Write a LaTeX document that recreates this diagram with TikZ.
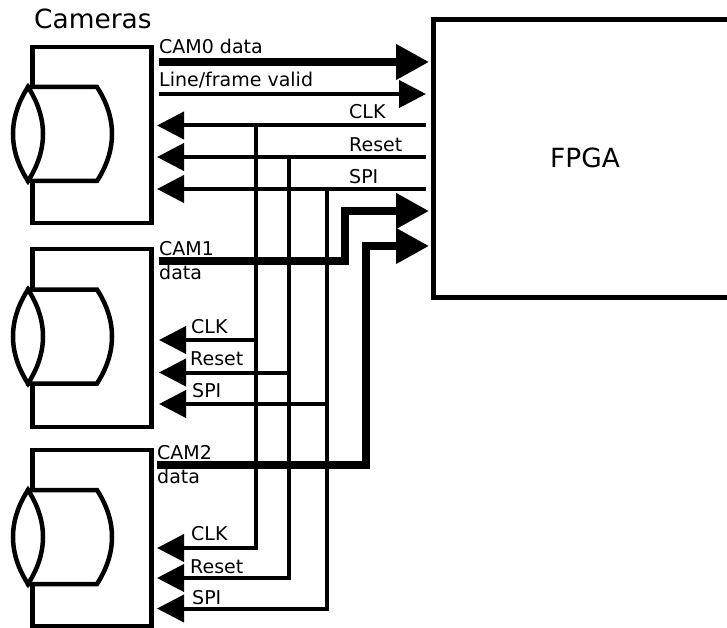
\documentclass[tikz,border=0pt]{standalone}
\usepackage{fontspec}
\setmainfont{DejaVu Sans}
\usetikzlibrary{arrows.meta}

\begin{document}
\begin{tikzpicture}[x=1pt,y=-1pt]
 \tikzstyle{cambox}=[rectangle,draw=black,line width=4.5pt,inner sep=0pt,
   minimum width=119pt]
 \tikzstyle{fpgabox}=[rectangle,draw=black,line width=5pt,inner sep=0pt,
   minimum width=300pt,minimum height=277pt]
 \tikzstyle{lensline}=[draw=black,fill=white,line width=4.5pt,line join=miter]
 \tikzstyle{siglabel}=[anchor=base west,inner sep=0pt,
   font=\fontsize{19}{23}\selectfont]
 \tikzstyle{biglabel}=[anchor=base west,inner sep=0pt,
   font=\fontsize{26.4}{30}\selectfont]
 \tikzstyle{datawire}=[line width=7.5pt,
   -{Triangle[length=33pt,width=34pt]}]
 \tikzstyle{ctrlwire}=[line width=4pt,
   -{Triangle[length=27pt,width=27pt]}]
 \tikzstyle{plainwire}=[line width=4pt]
 \useasboundingbox (0,0) rectangle (727,628);
 \clip (0,0) rectangle (727,628);

 % boxes
 \node (fpga) [fpgabox] at (583,158.5) {};
 \node (cam0) [cambox,minimum height=176pt] at (92,135) {};
 \node (cam1) [cambox,minimum height=178pt] at (92,338) {};
 \node (cam2) [cambox,minimum height=176pt] at (92,538) {};

 % lens and barrel of each camera
 \path[lensline] (28,87) -- (97,87) .. controls (117,118) and (117,150) .. (97,181)
   -- (28,181) -- cycle;
 \path[lensline] (28,87) .. controls (48,118) and (48,150) .. (28,181)
   .. controls (8,150) and (8,118) .. (28,87) -- cycle;
 \path[lensline,shift={(0,202.5)}] (28,87) -- (97,87)
   .. controls (117,118) and (117,150) .. (97,181) -- (28,181) -- cycle;
 \path[lensline,shift={(0,202.5)}] (28,87) .. controls (48,118) and (48,150) .. (28,181)
   .. controls (8,150) and (8,118) .. (28,87) -- cycle;
 \path[lensline,shift={(0,403)}] (28,87) -- (97,87)
   .. controls (117,118) and (117,150) .. (97,181) -- (28,181) -- cycle;
 \path[lensline,shift={(0,403)}] (28,87) .. controls (48,118) and (48,150) .. (28,181)
   .. controls (8,150) and (8,118) .. (28,87) -- cycle;

 % wire ends
 \coordinate (cam0data) at (159,62);
 \coordinate (cam0valid) at (159,94);
 \coordinate (cam0clk) at (157,125.5);
 \coordinate (cam0rst) at (157,157);
 \coordinate (cam0spi) at (157,189);
 \coordinate (cam1data) at (159,261);
 \coordinate (cam1clk) at (159,340);
 \coordinate (cam1rst) at (159,372.5);
 \coordinate (cam1spi) at (159,404);
 \coordinate (cam2data) at (157,465);
 \coordinate (cam2clk) at (157,548);
 \coordinate (cam2rst) at (157,578);
 \coordinate (cam2spi) at (157,608.5);
 \coordinate (fpgadata0) at (429,62);
 \coordinate (fpgavalid) at (426,94);
 \coordinate (fpgaclk) at (425.5,125.5);
 \coordinate (fpgarst) at (425.5,157);
 \coordinate (fpgaspi) at (425.5,189);
 \coordinate (fpgadata1) at (429,211);
 \coordinate (fpgadata2) at (429,246);
 \coordinate (clkbus) at (255.5,125.5);
 \coordinate (rstbus) at (289,157);
 \coordinate (spibus) at (326.5,189);

 % control wires
 \draw[ctrlwire] (fpgaclk) -- (cam0clk);
 \draw[ctrlwire] (fpgarst) -- (cam0rst);
 \draw[ctrlwire] (fpgaspi) -- (cam0spi);
 \draw[plainwire] (clkbus) -- (clkbus |- cam2clk);
 \draw[plainwire] (rstbus) -- (rstbus |- cam2rst);
 \draw[plainwire] (spibus) -- (spibus |- cam2spi);
 \draw[ctrlwire] (clkbus |- cam1clk) -- (cam1clk);
 \draw[ctrlwire] (rstbus |- cam1rst) -- (cam1rst);
 \draw[ctrlwire] (spibus |- cam1spi) -- (cam1spi);
 \draw[ctrlwire] ([xshift=2pt]clkbus |- cam2clk) -- (cam2clk);
 \draw[ctrlwire] ([xshift=2pt]rstbus |- cam2rst) -- (cam2rst);
 \draw[ctrlwire] ([xshift=2pt]spibus |- cam2spi) -- (cam2spi);

 % data wires
 \draw[ctrlwire] (cam0valid) -- (fpgavalid);
 \draw[datawire] (cam0data) -- (fpgadata0);
 \draw[datawire] (cam1data) -| (345,211) -- (fpgadata1);
 \draw[datawire] (cam2data) -| (366,246) -- (fpgadata2);

 % labels
 \node (camlabel) [biglabel] at (34,29) {Cameras};
 \node (fpgalabel) [biglabel] at (550,168) {FPGA};
 \node (cam0datalabel) [siglabel] at (159,54) {CAM0 data};
 \node (validlabel) [siglabel] at (159,87) {Line/frame valid};
 \node (clklabel0) [siglabel] at (349,119) {CLK};
 \node (rstlabel0) [siglabel] at (349,152) {Reset};
 \node (spilabel0) [siglabel] at (349,184) {SPI};
 \node (cam1label) [siglabel] at (159,255) {CAM1};
 \node (cam1datalabel) [siglabel] at (159,279) {data};
 \node (clklabel1) [siglabel] at (191,333) {CLK};
 \node (rstlabel1) [siglabel] at (190,365) {Reset};
 \node (spilabel1) [siglabel] at (192,397) {SPI};
 \node (cam2label) [siglabel] at (157,459) {CAM2};
 \node (cam2datalabel) [siglabel] at (157,483) {data};
 \node (clklabel2) [siglabel] at (191,540) {CLK};
 \node (rstlabel2) [siglabel] at (190,573) {Reset};
 \node (spilabel2) [siglabel] at (192,604) {SPI};
\end{tikzpicture}
\end{document}
